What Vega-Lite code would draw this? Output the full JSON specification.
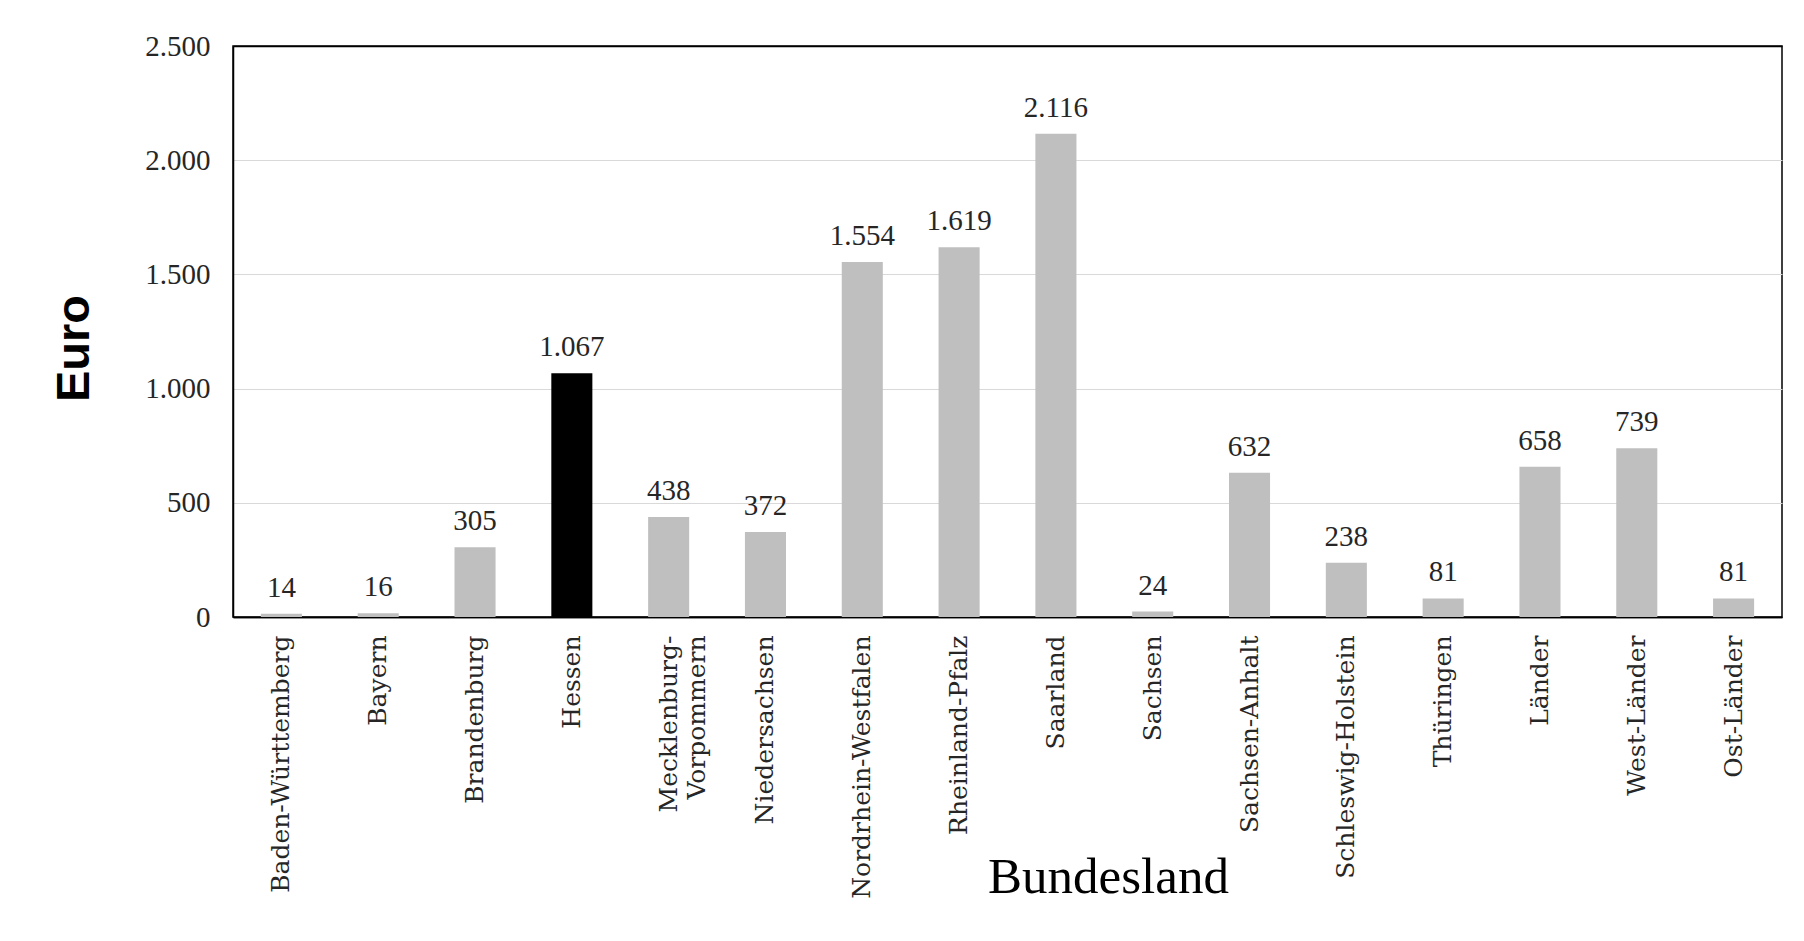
{
  "$schema": "https://vega.github.io/schema/vega-lite/v6.json",
  "width": 1549,
  "height": 571,
  "autosize": {"type": "none"},
  "padding": {"left": 233, "top": 46, "right": 22, "bottom": 324},
  "background": "#ffffff",
  "config": {
    "locale": {"number": {"decimal": ",", "thousands": ".", "grouping": [3], "currency": ["", " €"]}},
    "view": {"stroke": "#000000", "strokeWidth": 1.5}
  },
  "data": {
    "values": [
      {"Bundesland": "Baden-Württemberg", "Euro": 14},
      {"Bundesland": "Bayern", "Euro": 16},
      {"Bundesland": "Brandenburg", "Euro": 305},
      {"Bundesland": "Hessen", "Euro": 1067},
      {"Bundesland": "Mecklenburg-Vorpommern", "Euro": 438},
      {"Bundesland": "Niedersachsen", "Euro": 372},
      {"Bundesland": "Nordrhein-Westfalen", "Euro": 1554},
      {"Bundesland": "Rheinland-Pfalz", "Euro": 1619},
      {"Bundesland": "Saarland", "Euro": 2116},
      {"Bundesland": "Sachsen", "Euro": 24},
      {"Bundesland": "Sachsen-Anhalt", "Euro": 632},
      {"Bundesland": "Schleswig-Holstein", "Euro": 238},
      {"Bundesland": "Thüringen", "Euro": 81},
      {"Bundesland": "Länder", "Euro": 658},
      {"Bundesland": "West-Länder", "Euro": 739},
      {"Bundesland": "Ost-Länder", "Euro": 81}
    ]
  },
  "encoding": {
    "x": {
      "field": "Bundesland",
      "type": "nominal",
      "sort": null,
      "scale": {"paddingInner": 0.576, "paddingOuter": 0.288},
      "axis": {
        "title": "Bundesland",
        "titleFont": "Liberation Serif",
        "titleFontSize": 51,
        "titleFontWeight": "normal",
        "titleColor": "#000000",
        "titleX": 875,
        "titleY": 275,
        "titleAlign": "center",
        "titleBaseline": "alphabetic",
        "labelAngle": -90,
        "labelFont": "DejaVu Serif",
        "labelFontSize": 25,
        "labelColor": "#262626",
        "labelPadding": 18,
        "labelLimit": 0,
        "labelOverlap": false,
        "labelLineHeight": 28,
        "labelExpr": "datum.value === 'Mecklenburg-Vorpommern' ? ['Mecklenburg-', 'Vorpommern'] : datum.value",
        "ticks": false,
        "domainColor": "#000000",
        "domainWidth": 1.5,
        "grid": false
      }
    },
    "y": {
      "field": "Euro",
      "type": "quantitative",
      "scale": {"domain": [0, 2500], "nice": false},
      "axis": {
        "title": "Euro",
        "titleFont": "Liberation Sans",
        "titleFontSize": 47,
        "titleFontWeight": "bold",
        "titleColor": "#000000",
        "titleAngle": -90,
        "titleX": -145,
        "titleY": 302,
        "titleAlign": "center",
        "titleBaseline": "alphabetic",
        "values": [0, 500, 1000, 1500, 2000, 2500],
        "format": ",.0f",
        "labelFont": "Liberation Serif",
        "labelFontSize": 29,
        "labelColor": "#262626",
        "labelPadding": 23,
        "ticks": false,
        "domainColor": "#000000",
        "domainWidth": 1.5,
        "grid": true,
        "gridColor": {
          "condition": {"test": "datum.value === 2500 || datum.value === 0", "value": "#000000"},
          "value": "#d9d9d9"
        },
        "gridWidth": {
          "condition": {"test": "datum.value === 2500 || datum.value === 0", "value": 1.5},
          "value": 1.2
        }
      }
    }
  },
  "layer": [
    {
      "mark": {"type": "bar"},
      "encoding": {
        "color": {
          "condition": {"test": "datum.Bundesland === 'Hessen'", "value": "#000000"},
          "value": "#bfbfbf"
        }
      }
    },
    {
      "mark": {
        "type": "text",
        "baseline": "alphabetic",
        "dy": -17,
        "font": "Liberation Serif",
        "fontSize": 29,
        "color": "#262626"
      },
      "encoding": {
        "text": {"field": "Euro", "type": "quantitative", "format": ",.0f"}
      }
    }
  ]
}
